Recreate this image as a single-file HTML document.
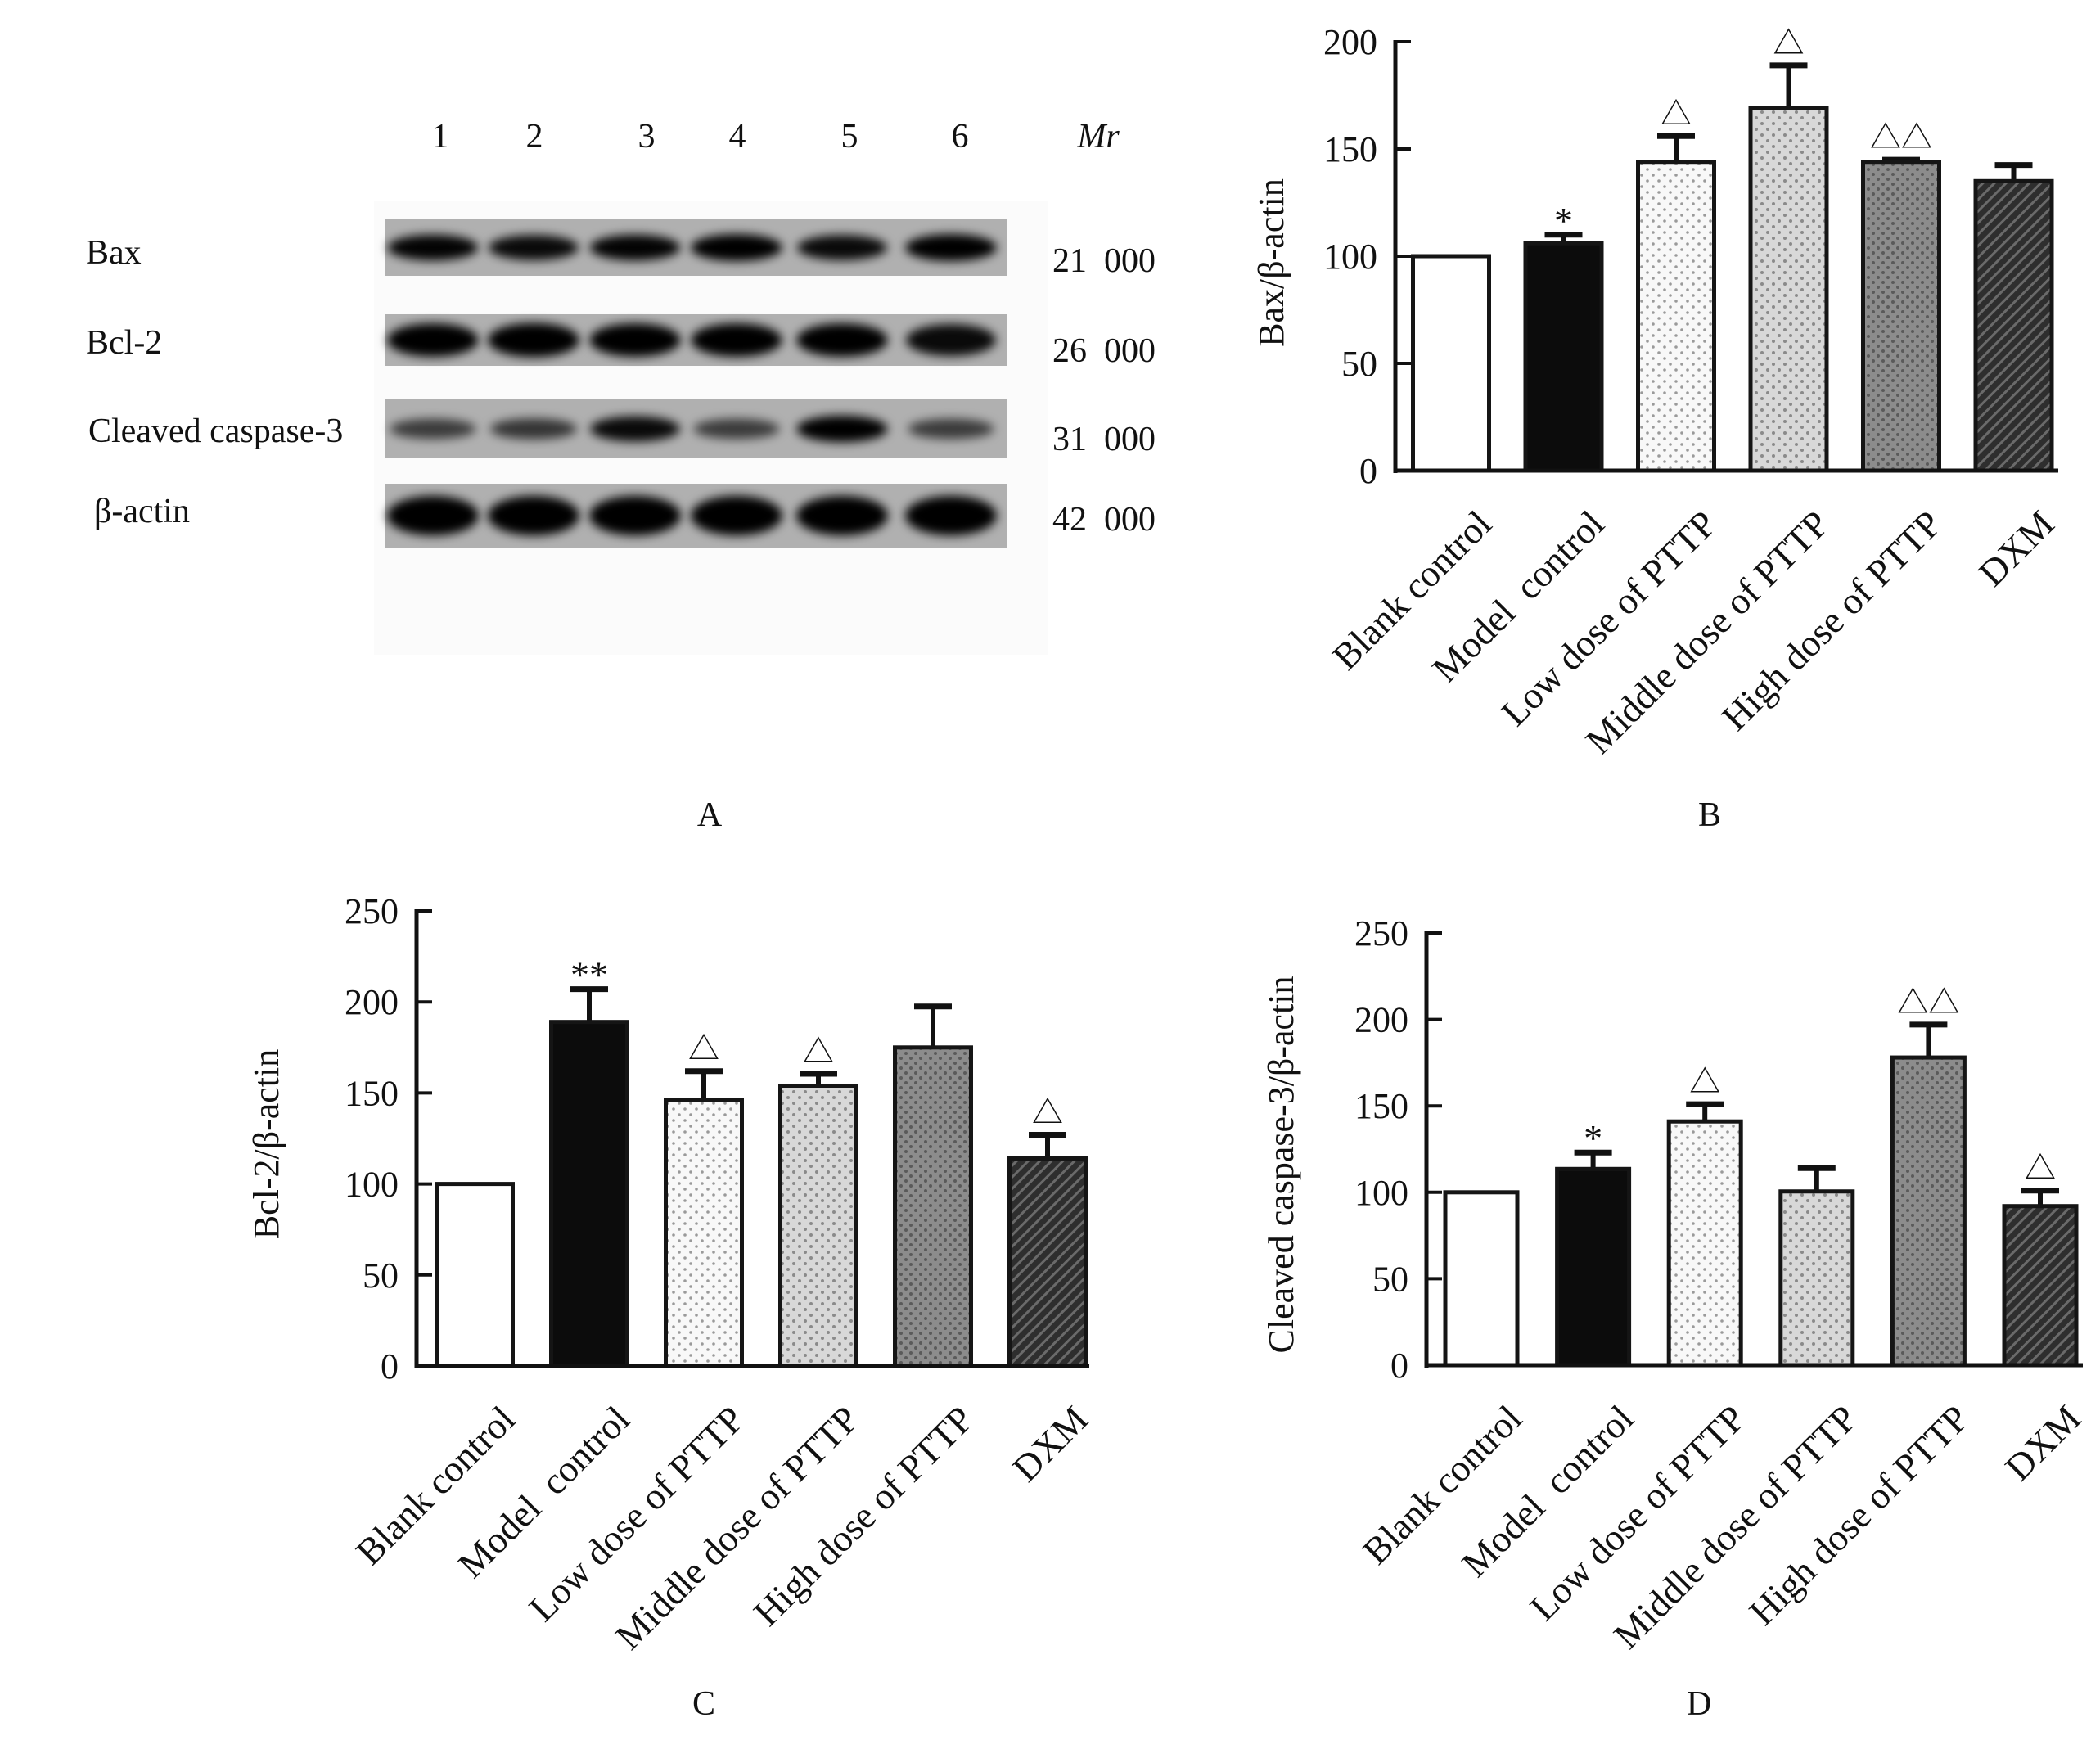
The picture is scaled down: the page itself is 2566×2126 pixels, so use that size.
<!DOCTYPE html>
<html><head><meta charset="utf-8"><style>
html,body{margin:0;padding:0;background:#fff;}
svg{display:block;font-family:"Liberation Serif","Noto Serif CJK SC",serif;}
</style></head><body>
<svg id="fig" width="2566" height="2126" viewBox="0 0 2566 2126" xmlns="http://www.w3.org/2000/svg">
<defs>
<filter id="blur" x="-20%" y="-50%" width="140%" height="200%"><feGaussianBlur stdDeviation="6"/></filter>
<pattern id="dotLow" width="14" height="14" patternUnits="userSpaceOnUse"><rect width="14" height="14" fill="#f8f8f8"/><circle cx="4" cy="4" r="1.8" fill="#9a9a9a"/><circle cx="11" cy="11" r="1.8" fill="#9a9a9a"/></pattern>
<pattern id="dotMid" width="14" height="14" patternUnits="userSpaceOnUse"><rect width="14" height="14" fill="#d8d8d8"/><circle cx="4" cy="4" r="2" fill="#8a8a8a"/><circle cx="11" cy="11" r="2" fill="#8a8a8a"/></pattern>
<pattern id="dotHigh" width="12" height="12" patternUnits="userSpaceOnUse"><rect width="12" height="12" fill="#8c8c8c"/><circle cx="3" cy="3" r="2" fill="#5a5a5a"/><circle cx="9" cy="9" r="2" fill="#5a5a5a"/></pattern>
<pattern id="hatch" width="10" height="10" patternUnits="userSpaceOnUse" patternTransform="rotate(45)"><rect width="10" height="10" fill="#2e2e2e"/><rect width="3" height="10" fill="#6a6a6a"/></pattern>
</defs>
<g id="panelA"></g>
<g id="panelB"></g>
<g id="panelC"></g>
<g id="panelD"></g>
</svg>
<script>
const NS = "http://www.w3.org/2000/svg";
const categories = ["Blank control","Model  control","Low dose of PTTP","Middle dose of PTTP","High dose of PTTP","DXM"];
const baxValues = [100,106,144,169,144,135];
const baxErrors = [100,110,156,189,145,142.5];
const baxMarks = ["","*","\u25B3","\u25B3","\u25B3\u25B3",""];
const baxTicks = [0,50,100,150,200];
const bclValues = [100,189,146,154,175,114];
const bclErrors = [100,207,162,160.5,197.5,127];
const bclMarks = ["","**","\u25B3","\u25B3","","\u25B3"];
const bclTicks = [0,50,100,150,200,250];
const casValues = [100,113.5,141,100.5,178,92];
const casErrors = [100,123,151,114,197,101];
const casMarks = ["","*","\u25B3","","\u25B3\u25B3","\u25B3"];
const casTicks = [0,50,100,150,200,250];
const fills = ["#ffffff","#0c0c0c","url(#dotLow)","url(#dotMid)","url(#dotHigh)","url(#hatch)"];
const laneLabels = ["1","2","3","4","5","6"];
const blotRows = ["Bax","Bcl-2","Cleaved caspase-3","\u03B2-actin"];
const blotMw = ["21  000","26  000","31  000","42  000"];
const bandIntensity = [
  [0.9,0.85,0.9,1,0.85,1],
  [0.95,1,0.95,0.95,0.95,0.85],
  [0.45,0.5,0.85,0.45,0.95,0.45],
  [1,1,1,1,1,1]
];

function el(tag, attrs, parent, text){
  const e = document.createElementNS(NS, tag);
  for (const k in attrs) e.setAttribute(k, attrs[k]);
  if (text !== undefined) e.textContent = text;
  parent.appendChild(e);
  return e;
}

function drawChart(g, cfg){
  const yS = v => cfg.y0 - v * (cfg.y0 - cfg.yTop) / cfg.max;
  const xS = i => cfg.c0 + i * cfg.pitch;
  cfg.values.forEach((v,i)=>{
    const top = yS(cfg.errors[i]);
    if (cfg.errors[i] > v + 0.1){
      const ln = el("line",{x1:xS(i),x2:xS(i),y1:yS(v),y2:top,stroke:"#111","stroke-width":6},g);
      
      
      const cap = el("line",{x1:xS(i)-23,x2:xS(i)+23,y1:top,y2:top,stroke:"#111","stroke-width":7},g);
      
      
    }
    const r = el("rect",{x:xS(i)-cfg.bw/2,y:yS(v),width:cfg.bw,height:cfg.y0-yS(v),fill:fills[i],stroke:"#151515","stroke-width":5},g);
    
    
    if (cfg.marks[i]){
      const star = cfg.marks[i].indexOf('*')>=0;
      const t = el("text",{x:xS(i),y:star?top-2:top-14,"text-anchor":"middle","font-size":star?46:38,fill:"#111"},g,cfg.marks[i]);
      
      
    }
    const lab = el("text",{x:0,y:0,"text-anchor":"end","font-size":46,fill:"#111",transform:`translate(${xS(i)+52},${cfg.y0+68}) rotate(-45)`},g,categories[i]);
    
    
    lab.style.whiteSpace='pre';
  });
  const ya = el("line",{x1:cfg.x0,x2:cfg.x0,y1:cfg.yTop-2,y2:cfg.y0+3,stroke:"#111","stroke-width":5},g);
  
  
  const xa = el("line",{x1:cfg.x0-2,x2:cfg.xEnd,y1:cfg.y0,y2:cfg.y0,stroke:"#111","stroke-width":5},g);
  
  
  cfg.ticks.forEach(t=>{
    const tk = el("line",{x1:cfg.x0,x2:cfg.x0+19,y1:yS(t),y2:yS(t),stroke:"#111","stroke-width":4},g);
    
    
    const tl = el("text",{x:cfg.x0-22,y:yS(t)+15,"text-anchor":"end","font-size":44,fill:"#111"},g,String(t));
    
    
  });
  const yt = el("text",{x:0,y:0,"text-anchor":"middle","font-size":44,fill:"#111",transform:`translate(${cfg.titleX},${cfg.titleY}) rotate(-90)`},g,cfg.title);
  
  
  const pl = el("text",{x:cfg.letterX,y:cfg.letterY,"text-anchor":"middle","font-size":42,fill:"#111"},g,cfg.letter);
  
  
}

drawChart(document.getElementById('panelB'),{values:baxValues,errors:baxErrors,marks:baxMarks,ticks:baxTicks,max:200,
  x0:1705,y0:575,yTop:51,c0:1773,pitch:137.5,bw:93,xEnd:2515,title:"Bax/\u03B2-actin",titleX:1568,titleY:321,letter:"B",letterX:2089,letterY:1009});
drawChart(document.getElementById('panelC'),{values:bclValues,errors:bclErrors,marks:bclMarks,ticks:bclTicks,max:250,
  x0:509,y0:1669,yTop:1113,c0:580,pitch:140,bw:93,xEnd:1331,title:"Bcl-2/\u03B2-actin",titleX:340,titleY:1398,letter:"C",letterX:860,letterY:2095});
drawChart(document.getElementById('panelD'),{values:casValues,errors:casErrors,marks:casMarks,ticks:casTicks,max:250,
  x0:1743,y0:1668,yTop:1140,c0:1810,pitch:136.6,bw:88,xEnd:2545,title:"Cleaved caspase-3/\u03B2-actin",titleX:1580,titleY:1423,letter:"D",letterX:2076,letterY:2095});

(function(){
  const g = document.getElementById('panelA');
  const bg = el("rect",{x:457,y:245,width:823,height:555,fill:"#fbfbfb"},g);
  
  
  const laneX = [538,653,790,901,1038,1173];
  laneLabels.forEach((l,i)=>{
    const t = el("text",{x:laneX[i],y:180,"text-anchor":"middle","font-size":42,fill:"#111"},g,l);
    
    
  });
  const mr = el("text",{x:1342,y:180,"text-anchor":"middle","font-size":42,"font-style":"italic",fill:"#111"},g,"Mr");
  
  
  const rowY = [[268,337],[384,447],[488,560],[591,669]];
  const labY = [322,432,540,638];
  const labX = [105,105,108,115];
  const bandX = [529,652,776,900,1029,1162];
  const bandH = [30,38,30,44];
  blotRows.forEach((name,r)=>{
    const strip = el("rect",{x:470,y:rowY[r][0],width:760,height:rowY[r][1]-rowY[r][0],fill:"#b0b0b0"},g);
    
    
    const mid = (rowY[r][0]+rowY[r][1])/2;
    bandX.forEach((bx,i)=>{
      const k = bandIntensity[r][i];
      const b = el("ellipse",{cx:bx,cy:mid,rx:50+6*k,ry:bandH[r]/2*(0.6+0.5*k),fill:"#000","fill-opacity":Math.min(1,0.35+0.7*k),filter:"url(#blur)"},g);
      
      
    });
    const t = el("text",{x:labX[r],y:labY[r],"font-size":42,fill:"#111"},g,name);
    
    
    const m = el("text",{x:1286,y:labY[r]+10,"font-size":42,fill:"#111"},g,blotMw[r]);
    m.style.whiteSpace='pre';
    
    
  });
  const pa = el("text",{x:867,y:1009,"text-anchor":"middle","font-size":42,fill:"#111"},g,"A");
  
  
})();
</script>
</body></html>
